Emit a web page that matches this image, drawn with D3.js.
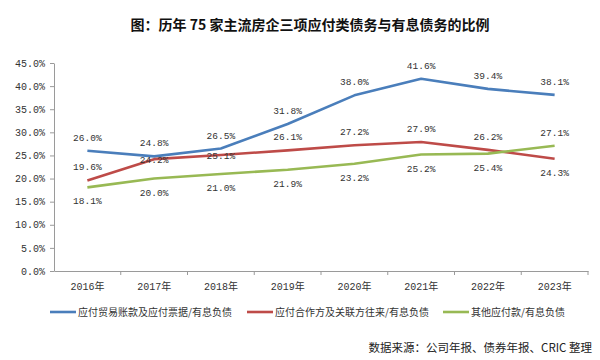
<!DOCTYPE html>
<html lang="zh">
<head>
<meta charset="utf-8">
<script src="https://d3js.org/d3.v7.min.js"></script>
<style type="text/css">
body {
    margin: 0;
    background: #fff;
    font-family: "Noto Sans CJK SC", "DejaVu Sans", sans-serif;
}
.axis path, .axis line {
    stroke: #9a9a9a;
}
.axis text {
    fill: #333;
    font-size: 10px;
    font-family: "Liberation Mono", "Noto Sans CJK SC", monospace;
}
.num {
    font-family: "Liberation Mono", "Noto Sans CJK SC", monospace;
}
</style>
</head>
<body>
<div id="chart"></div>
<script type="text/javascript">

// data
var years = ["2016年", "2017年", "2018年", "2019年", "2020年", "2021年", "2022年", "2023年"];
var tradePayable = [26.0, 24.8, 26.5, 31.8, 38.0, 41.6, 39.4, 38.1];
var partnerPayable = [19.6, 24.2, 25.1, 26.1, 27.2, 27.9, 26.2, 24.3];
var otherPayable = [18.1, 20.0, 21.0, 21.9, 23.2, 25.2, 25.4, 27.1];
var yTicks = [0, 5, 10, 15, 20, 25, 30, 35, 40, 45];
var seriesNames = ["应付贸易账款及应付票据/有息负债", "应付合作方及关联方往来/有息负债", "其他应付款/有息负债"];

var width = 600,
    height = 360;

var margin = {left: 54, right: 12, top: 63, bottom: 89};

var svg = d3.select("#chart")
    .append("svg")
    .attr("width", width)
    .attr("height", height);

// title
svg.append("text")
    .attr("x", 310)
    .attr("y", 30)
    .attr("text-anchor", "middle")
    .style("font-size", "14px")
    .style("font-weight", "bold")
    .attr("fill", "#111")
    .text("图：历年 75 家主流房企三项应付类债务与有息债务的比例");

var x = d3.scaleBand()
    .domain(years)
    .range([margin.left, width - margin.right]);

var y = d3.scaleLinear()
    .domain([0, 45])
    .range([height - margin.bottom, margin.top]);

// axes
svg.append("g")
    .attr("class", "axis")
    .attr("transform", "translate(" + margin.left + ",0)")
    .call(d3.axisLeft(y).tickValues(yTicks).tickSize(4).tickSizeOuter(0)
        .tickFormat(function(d) { return d.toFixed(1) + "%"; }))
    .selectAll("text").attr("dx", "-2");

var xAxis = svg.append("g")
    .attr("class", "axis")
    .attr("transform", "translate(0," + (height - margin.bottom) + ")")
    .call(d3.axisBottom(x).tickSize(0).tickSizeOuter(0));
xAxis.selectAll("text").attr("dy", "1.6em");

// tick marks between categories
xAxis.selectAll(".sep")
    .data(years)
    .enter()
    .append("line")
    .attr("class", "sep")
    .attr("x1", function(d) { return x(d) + x.bandwidth(); })
    .attr("x2", function(d) { return x(d) + x.bandwidth(); })
    .attr("y1", 0)
    .attr("y2", 4)
    .attr("stroke", "#9a9a9a");

// pos: label position relative to the point (a = above, b = below, c = on it)
var series = [
    {name: seriesNames[0], values: tradePayable, color: "#4a7ebb", pos: ["a","a","a","a","a","a","a","a"]},
    {name: seriesNames[1], values: partnerPayable, color: "#be4b48", pos: ["a","c","c","a","a","a","a","b"]},
    {name: seriesNames[2], values: otherPayable, color: "#98b954", pos: ["b","b","b","b","b","b","b","a"]}
];

var line = d3.line()
    .x(function(d, i) { return x(years[i]) + x.bandwidth() / 2; })
    .y(function(d) { return y(d); });

series.forEach(function(s) {
    svg.append("path")
        .datum(s.values)
        .attr("d", line)
        .attr("fill", "none")
        .attr("stroke", s.color)
        .attr("stroke-width", 2.6)
        .attr("stroke-linejoin", "round");
});

// value labels on top of the lines
series.forEach(function(s) {
    svg.selectAll(null)
        .data(s.values)
        .enter()
        .append("text")
        .attr("class", "num")
        .attr("x", function(d, i) { return x(years[i]) + x.bandwidth() / 2; })
        .attr("y", function(d, i) {
            var p = s.pos[i];
            if (p == "a") return y(d) - 10;
            if (p == "b") return y(d) + 17;
            return y(d) + 4;
        })
        .attr("text-anchor", "middle")
        .style("font-size", "9.5px")
        .attr("fill", "#333")
        .text(function(d) { return d.toFixed(1) + "%"; });
});

// legend
var legendX = [50, 247, 443];
var legend = svg.selectAll(".legend")
    .data(series)
    .enter()
    .append("g")
    .attr("class", "legend")
    .attr("transform", function(d, i) { return "translate(" + legendX[i] + ",312)"; });

legend.append("line")
    .attr("x1", 0)
    .attr("x2", 26)
    .attr("stroke", function(d) { return d.color; })
    .attr("stroke-width", 2.6);

legend.append("text")
    .attr("x", 28)
    .attr("y", 3.5)
    .style("font-size", "10px")
    .attr("fill", "#333")
    .text(function(d) { return d.name; });

// source
svg.append("text")
    .attr("x", 592)
    .attr("y", 352)
    .attr("text-anchor", "end")
    .style("font-size", "11.5px")
    .attr("fill", "#222")
    .text("数据来源：公司年报、债券年报、CRIC 整理");

</script>
</body>
</html>
